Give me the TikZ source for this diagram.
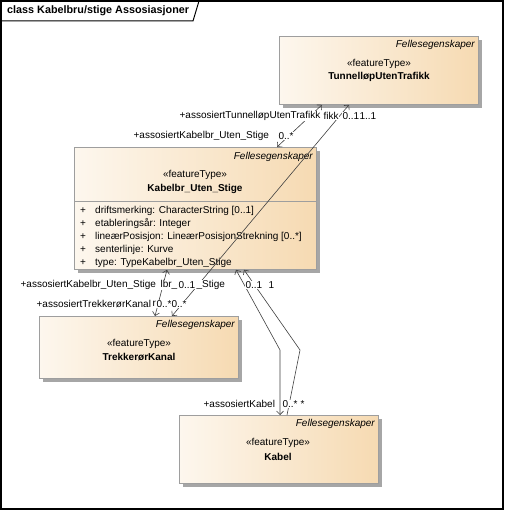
\documentclass[tikz,border=0pt]{standalone}
\usepackage{fontspec}
\setmainfont{Liberation Sans}
\usetikzlibrary{arrows.meta,shadows}
\definecolor{boxL}{HTML}{FDF7EE}
\definecolor{boxR}{HTML}{F6DAB2}
\definecolor{boxB}{HTML}{9E9E9E}
\definecolor{lineC}{HTML}{404040}
\begin{document}
\begin{tikzpicture}[x=1pt,y=-1pt,font=\fontsize{10}{12}\selectfont,
  cls/.style={draw=boxB,line width=0.8pt,left color=boxL,right color=boxR,anchor=north west,inner sep=0pt,
    drop shadow={shadow xshift=4pt,shadow yshift=-4pt,fill=black!35,opacity=1}},
  fe/.style={anchor=east,inner sep=0pt,font=\fontsize{10}{12}\selectfont\itshape},
  txt/.style={inner sep=0pt},
  nm/.style={inner sep=0pt,font=\fontsize{10}{12}\selectfont\bfseries},
  attr/.style={anchor=west,inner sep=0pt},
  lab/.style={anchor=west,fill=white,inner sep=0.4pt},
  conn/.style={draw=lineC,line width=0.6pt},
  tip/.tip={Straight Barb[length=3.5pt,width=7pt]}]
\useasboundingbox (0,0) rectangle (504,510);
\fill[white] (0,0) rectangle (504,510);
% frame
\draw[line width=1.3pt] (1,1) rectangle (503,509);
\draw[line width=1pt] (1,21) -- (193,21) -- (199,1);
\node[anchor=west,inner sep=0pt,font=\fontsize{10.8}{12}\selectfont\bfseries] (title) at (7,11) {class Kabelbru/stige Assosiasjoner};

% boxes
\node[cls,minimum width=199pt,minimum height=68pt] (tun) at (279,36) {};
\node[cls,minimum width=242pt,minimum height=122pt] (kab) at (74,147) {};
\node[cls,minimum width=199pt,minimum height=62pt] (trk) at (39,316) {};
\node[cls,minimum width=199pt,minimum height=68pt] (kbl) at (179,415) {};

% Tunnel box text
\node[fe] (tunF) at (475,45) {Fellesegenskaper};
\node[txt] (tunS) at (379,64) {«featureType»};
\node[nm] (tunN) at (379,77) {TunnelløpUtenTrafikk};

% Kabelbr box text
\node[fe] (kabF) at (313,157) {Fellesegenskaper};
\node[txt] (kabS) at (195,175) {«featureType»};
\node[nm] (kabN) at (195,189) {Kabelbr\_Uten\_Stige};
\draw[boxB,line width=0.8pt] (kab.west |- 0,201) -- (kab.east |- 0,201);
\foreach \yy/\tt in {211/{driftsmerking: CharacterString [0..1]},
                     224/{etableringsår: Integer},
                     237/{lineærPosisjon: LineærPosisjonStrekning [0..*]},
                     250/{senterlinje: Kurve},
                     263/{type: TypeKabelbr\_Uten\_Stige}}{
  \node[attr] at (80,\yy) {+};
  \node[attr] at (95,\yy) {\tt};
}

% Trekker box text
\node[fe] (trkF) at (235,325) {Fellesegenskaper};
\node[txt] (trkS) at (139,344) {«featureType»};
\node[nm] (trkN) at (139,357) {TrekkerørKanal};

% Kabel box text
\node[fe] (kblF) at (375,424) {Fellesegenskaper};
\node[txt] (kblS) at (278,443) {«featureType»};
\node[nm] (kblN) at (278,457) {Kabel};

% connectors
\coordinate (b1) at (280,350);
\coordinate (b2) at (300,350);
\draw[conn,tip-tip] ([xshift=203pt]kab.north west) -- ([xshift=43pt]tun.south west);
\draw[conn,tip-tip] ([xshift=133pt]trk.north west) -- ([xshift=70pt]tun.south west);
\draw[conn,tip-tip] ([xshift=116pt]trk.north west) -- ([xshift=93pt]kab.south west);
\draw[conn,tip-tip] ([xshift=162pt]kab.south west) -- (b1) -- ([xshift=101pt]kbl.north west);
\draw[conn,tip-] ([xshift=170pt]kab.south west) -- (b2) -- ([xshift=108pt]kbl.north west);

% labels
\node[lab] (l1) at (179,116) {+assosiertTunnelløpUtenTrafikk};
\node[lab] (l1b) at (323,116) {fikk};
\node[lab] (l1c) at (342,116) {0..1};
\node[lab] (l1d) at (359,116) {1..1};
\node[lab] (l2) at (133,136) {+assosiertKabelbr\_Uten\_Stige};
\node[lab] (l2b) at (278,136) {0..*};
\node[lab] (l3) at (20,285) {+assosiertKabelbr\_Uten\_Stige};
\node[lab] (l3b) at (160,285) {lbr\_};
\node[lab] (l3c) at (178,285) {0..1};
\node[lab] (l3d) at (196,285) {\_Stige};
\node[lab] (l4) at (245,285) {0..1};
\node[lab] (l4b) at (268,285) {1};
\node[lab] (l5) at (36,304) {+assosiertTrekkerørKanal};
\node[lab] (l5a) at (152,304) {r};
\node[lab] (l5b) at (156,304) {0..*};
\node[lab] (l5c) at (171,304) {0..*};
\node[lab] (l6) at (203,404) {+assosiertKabel};
\node[lab] (l6b) at (282,404) {0..*};
\node[lab] (l6c) at (300,404) {*};
\end{tikzpicture}
\end{document}
